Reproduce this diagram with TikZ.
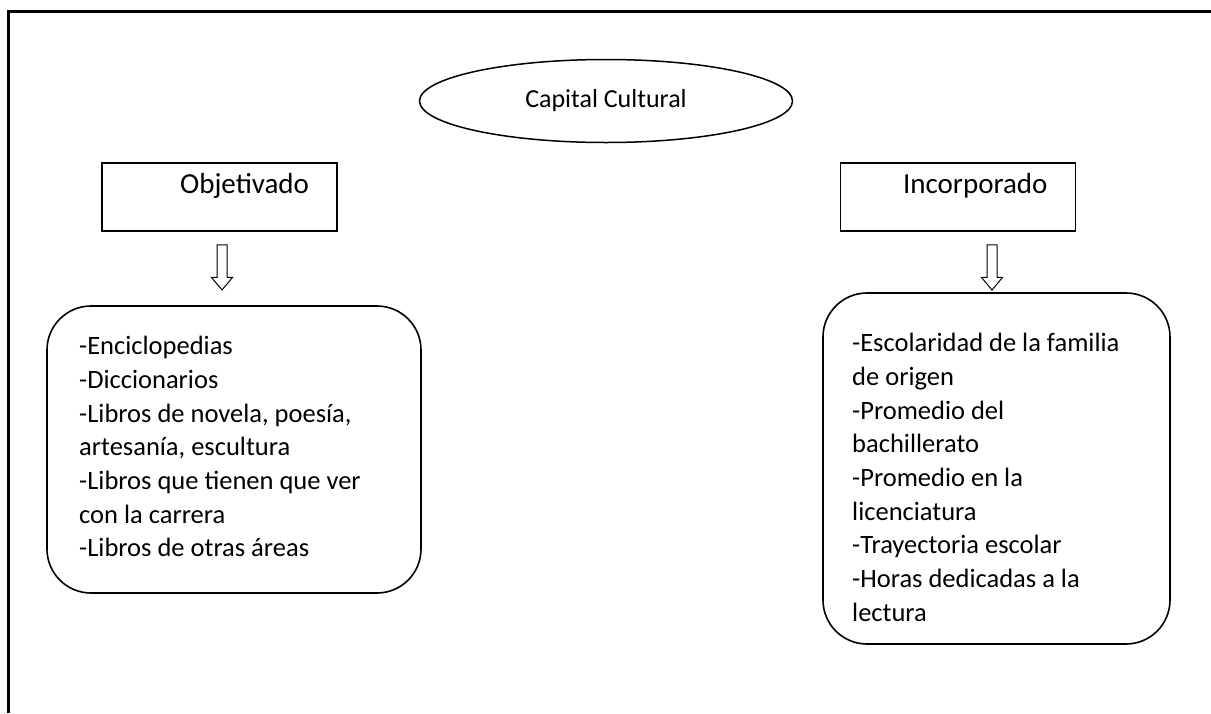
\documentclass[tikz,border=0pt]{standalone}
\usepackage{fontspec}
\setmainfont{Carlito}
\usetikzlibrary{shapes.geometric,shapes.arrows}
\tikzset{headbox/.style={draw,line width=1.6pt,minimum width=235pt,minimum height=68pt,
    inner xsep=28pt,inner ysep=0pt,text width=179pt,align=right,
    text height=30pt,text depth=38pt,font=\fontsize{29}{34}\selectfont}}
\tikzset{listbox/.style={draw,line width=1.6pt,rounded corners=44pt,inner sep=0pt}}
\tikzset{listtext/.style={anchor=north west,inner sep=0pt,align=left,
    font=\fontsize{26.5}{33.7}\selectfont,
    execute at begin node={\spaceskip=0pt\xspaceskip=0pt}}}
\tikzset{downarrow/.style={single arrow,draw,line width=1pt,rotate=-90,inner xsep=0pt,
    inner ysep=4.5pt,minimum height=45pt,single arrow head extend=5.5pt,
    single arrow tip angle=80}}

\begin{document}
\begin{tikzpicture}[x=1pt,y=-1pt]
\useasboundingbox (0,0) rectangle (1211,713);
% marco
\draw[line width=3pt] (8,713) -- (8,11) -- (1211,11);

\node[ellipse,draw,line width=1.5pt,minimum width=373pt,minimum height=83pt,inner sep=0pt,
    font=\fontsize{26}{30}\selectfont] (capital) at (606,101) {Capital Cultural};

\node[headbox] (objetivado) at (219.5,197) {Objetivado};
\node[headbox] (incorporado) at (958,197) {Incorporado};

\node[downarrow] (objflecha) at (222,264.5) {};
\node[downarrow] (incflecha) at (992,264.5) {};

% cajas de la lista
\node[listbox,minimum width=374pt,minimum height=287pt] (objlista) at (234,449.5) {};
\node[listbox,minimum width=347pt,minimum height=351pt] (inclista) at (996.5,468.5) {};

\node[listtext] (objtexto) at (79,336)
    {-Enciclopedias\\-Diccionarios\\-Libros de novela, poesía,\\artesanía, escultura\\
     -Libros que tienen que ver\\con la carrera\\-Libros de otras áreas};
\node[listtext] (inctexto) at (852,333)
    {-Escolaridad de la familia\\de origen\\-Promedio del\\bachillerato\\-Promedio en la\\
     licenciatura\\-Trayectoria escolar\\-Horas dedicadas a la\\lectura};
\end{tikzpicture}
\end{document}
